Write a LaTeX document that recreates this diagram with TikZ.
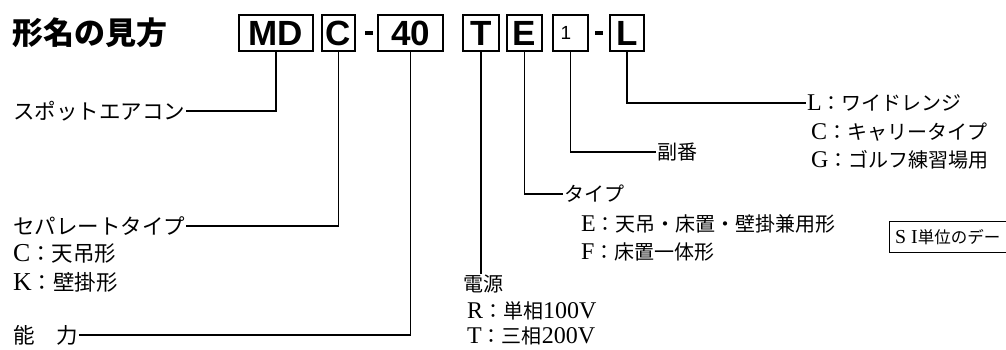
\documentclass[tikz,border=0pt]{standalone}
\usepackage{fontspec}
\setmainfont{Liberation Serif}[Scale=1.2]
\setsansfont{Liberation Sans}
\newfontfamily\jp{Noto Sans CJK JP}
\tikzset{
  code/.style={draw, line width=1.6pt, inner sep=0pt, minimum height=36pt,
    font=\sffamily\bfseries\fontsize{35}{35}\selectfont},
  lbl/.style={inner sep=1pt, anchor=west, font=\fontsize{20}{22}\selectfont},
  lbll/.style={lbl, font=\fontsize{21.5}{23}\selectfont},
  conn/.style={line width=1.1pt},
  dashbar/.style={line width=3.8pt}
}
\begin{document}
\begin{tikzpicture}[x=1pt,y=-1pt]
\useasboundingbox (0,0) rectangle (1006,350);
\clip (0,0) rectangle (1006,350);
% title
\node[anchor=west, inner sep=0pt, font=\jp\bfseries\fontsize{31}{31}\selectfont] (title) at (12,33) {形名の見方};
% code boxes
\node[code, minimum width=74pt] (md) at (276,33) {MD};
\node[code, minimum width=33pt] (c) at (338.5,33) {C};
\draw[dashbar] (365,33) -- (373,33);
\node[code, minimum width=65pt] (n40) at (410.5,33) {40};
\node[code, minimum width=36pt] (t) at (481,33) {T};
\node[code, minimum width=35pt] (e) at (524.5,33) {E};
\node[code, minimum width=35pt, font=\sffamily\fontsize{19}{19}\selectfont, text depth=-7pt] (one) at (570.5,33) {\hspace*{-9pt}1};
\draw[dashbar] (595,33) -- (603,33);
\node[code, minimum width=34pt] (l) at (627,33) {L};
% left labels
\node[lbll] (spot) at (12,111) {\jp スポットエアコン};
\node[lbll] (sep) at (12,226) {\jp セパレートタイプ};
\node[lbll] (sepc) at (12,254) {C{\jp ：天吊形}};
\node[lbll] (sepk) at (12,282) {K{\jp ：壁掛形}};
\node[lbll] (nor) at (12,335) {\jp 能　力};
% power
\node[lbl] (pow) at (462,284) {\jp 電源};
\node[lbl] (powr) at (466,311) {R{\jp ：単相}100V};
\node[lbl] (powt) at (466,336) {T{\jp ：三相}200V};
% type
\node[lbl] (typ) at (563,194) {\jp タイプ};
\node[lbl] (type) at (580,224) {E{\jp ：天吊・床置・壁掛兼用形}};
\node[lbl] (typf) at (580,252) {F{\jp ：床置一体形}};
% sub number
\node[lbl] (sub) at (656,152) {\jp 副番};
% L options
\node[lbl] (optl) at (806,103) {L{\jp ：ワイドレンジ}};
\node[lbl] (optc) at (810,132) {C{\jp ：キャリータイプ}};
\node[lbl] (optg) at (810,160) {G{\jp ：ゴルフ練習場用}};
% SI box (runs off the right edge)
\node[anchor=west, inner xsep=6pt, inner ysep=0pt, minimum height=30pt, font=\fontsize{16.5}{17}\selectfont] (si) at (889,237) {S\hspace{5pt}I{\jp 単位のデー}};
\draw[line width=1pt] ([xshift=40pt]si.north east) -- (si.north west) -- (si.south west) -- ([xshift=40pt]si.south east);
% connectors
\draw[conn] (md.south) |- (spot.east);
\draw[conn] (c.south) |- (sep.east);
\draw[conn] (n40.south) |- (nor.east);
\draw[conn] (t.south) -- (t.south |- pow.north);
\draw[conn] (e.south) |- (typ.west);
\draw[conn] (one.south) |- (sub.west);
\draw[conn] (l.south) |- (optl.west);
\end{tikzpicture}
\end{document}
